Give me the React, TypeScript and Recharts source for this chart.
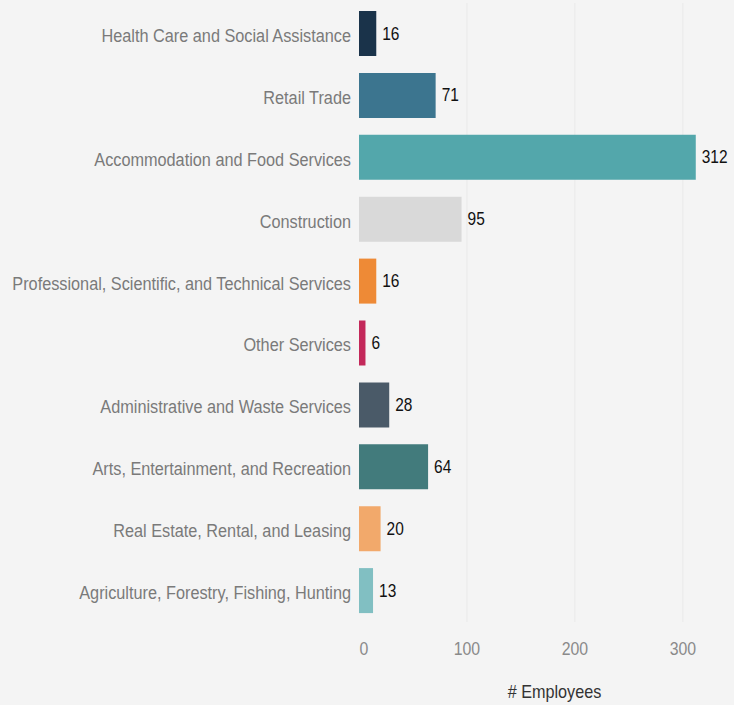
import React from 'react';
import { BarChart, Bar, XAxis, YAxis, CartesianGrid, Cell, LabelList } from 'recharts';

const INDUSTRIES = [
  'Health Care and Social Assistance',
  'Retail Trade',
  'Accommodation and Food Services',
  'Construction',
  'Professional, Scientific, and Technical Services',
  'Other Services',
  'Administrative and Waste Services',
  'Arts, Entertainment, and Recreation',
  'Real Estate, Rental, and Leasing',
  'Agriculture, Forestry, Fishing, Hunting',
];

const EMPLOYEES = [16, 71, 312, 95, 16, 6, 28, 64, 20, 13];

const BAR_COLORS = [
  '#1a334a', '#3c758f', '#53a7ab', '#d9d9d9', '#ee8a36',
  '#c3285a', '#4a5a68', '#427b7c', '#f2a96b', '#81bfc2',
];

const X_TICKS = [0, 100, 200, 300];
const GRID_VALUES = [100, 200, 300];

const FONT = '"Liberation Sans", Arial, sans-serif';

const data = INDUSTRIES.map((name, i) => ({ name, employees: EMPLOYEES[i] }));

// condensed look: squeeze text horizontally around its anchor
const XTick = (props: any) => {
  const { x, y, payload } = props;
  const shift = payload.value === 0 ? 5 : 0;
  return (
    <g transform={`translate(${x + shift},${y + 25})`}>
      <text transform="scale(0.88,1)" textAnchor="middle" fill="#8a8a8a" fontSize={18} fontFamily={FONT}>
        {payload.value}
      </text>
    </g>
  );
};

const YTick = (props: any) => {
  const { x, y, payload } = props;
  return (
    <g transform={`translate(${x},${y + 8})`}>
      <text transform="scale(0.88,1)" textAnchor="end" fill="#7a7a7a" fontSize={18.5} fontFamily={FONT}>
        {payload.value}
      </text>
    </g>
  );
};

const ValueLabel = (props: any) => {
  const { x, y, width, height, value } = props;
  return (
    <g transform={`translate(${x + width + 6},${y + height / 2 + 6})`}>
      <text transform="scale(0.86,1)" textAnchor="start" fill="#111" fontSize={18} fontFamily={FONT}>
        {value}
      </text>
    </g>
  );
};

const AxisTitle = (props: any) => {
  const { viewBox } = props;
  const cx = viewBox.x + viewBox.width / 2 + 12;
  return (
    <g transform={`translate(${cx},${viewBox.y + 76})`}>
      <text transform="scale(0.9,1)" textAnchor="middle" fill="#333" fontSize={18} fontFamily={FONT}>
        # Employees
      </text>
    </g>
  );
};

export default function App() {
  return (
    <div style={{ position: 'absolute', left: 0, top: 0, width: 734, height: 705, background: '#f4f4f4' }}>
      <BarChart
        width={734}
        height={705}
        data={data}
        layout="vertical"
        margin={{ top: 3, right: 8, bottom: 0, left: 0 }}
        barSize={45}
      >
        <CartesianGrid horizontal={false} verticalValues={GRID_VALUES} stroke="#e9e9e9" />
        <XAxis
          type="number"
          domain={[0, 340]}
          ticks={X_TICKS}
          axisLine={false}
          tickLine={false}
          height={83}
          tick={<XTick />}
          label={<AxisTitle />}
        />
        <YAxis
          type="category"
          dataKey="name"
          width={359}
          axisLine={false}
          tickLine={false}
          tick={<YTick />}
          interval={0}
        />
        <Bar dataKey="employees" isAnimationActive={false}>
          {data.map((d, i) => (
            <Cell key={d.name} fill={BAR_COLORS[i]} />
          ))}
          <LabelList dataKey="employees" content={<ValueLabel />} />
        </Bar>
      </BarChart>
    </div>
  );
}
